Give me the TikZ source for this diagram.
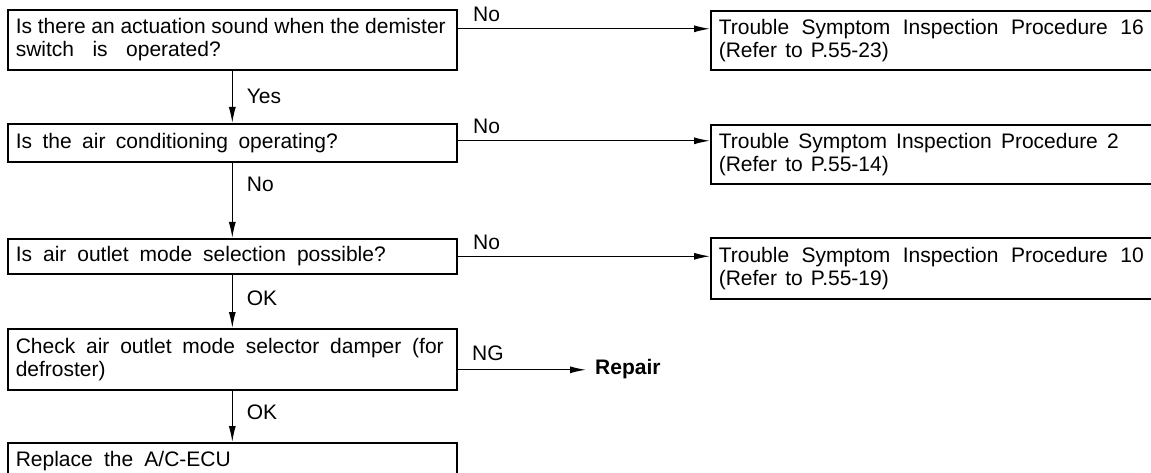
\documentclass[tikz,border=0pt]{standalone}
\usepackage{fontspec}
\setmainfont{Liberation Sans}
\usetikzlibrary{arrows.meta}
\newcommand\fs{\fontsize{21}{23}\selectfont}
\newcommand\jline[2]{\hbox to #1{#2}}
\tikzset{
  box/.style={draw, line width=1.6pt, anchor=north west, inner xsep=8pt, inner ysep=0pt, align=left, font=\fs},
  arr/.style={line width=1.2pt, -{Latex[length=16pt,width=7pt]}},
  lbl/.style={inner sep=0pt, font=\fs},
}
\begin{document}
\begin{tikzpicture}[x=1pt,y=-1pt]
\useasboundingbox (0,0) rectangle (1151,473);
% left column
\node[box, minimum width=449pt, minimum height=60pt, text width=433pt] (b1) at (7,9)
  {\jline{430pt}{Is\hfill there\hfill an\hfill actuation\hfill sound\hfill when\hfill the\hfill demister}\\
   \jline{205pt}{switch\hfill is\hfill operated?}};
\node[box, minimum width=449pt, minimum height=38pt, text width=433pt] (b2) at (7,123)
  {\jline{322pt}{Is\hfill the\hfill air\hfill conditioning\hfill operating?}};
\node[box, minimum width=449pt, minimum height=35pt, text width=433pt] (b3) at (7,238)
  {\jline{370pt}{Is\hfill air\hfill outlet\hfill mode\hfill selection\hfill possible?}};
\node[box, minimum width=449pt, minimum height=61pt, text width=433pt] (b4) at (7,328)
  {\jline{428pt}{Check\hfill air\hfill outlet\hfill mode\hfill selector\hfill damper\hfill (for}\\defroster)};
\node[box, minimum width=449pt, minimum height=36pt, text width=433pt] (b5) at (7,442)
  {\jline{215pt}{Replace\hfill the\hfill A/C-ECU}};
% right column
\node[box, minimum width=460pt, minimum height=59pt, text width=444pt] (r1) at (710,10)
  {\jline{425pt}{Trouble\hfill Symptom\hfill Inspection\hfill Procedure\hfill 16}\\
   \jline{170pt}{(Refer\hfill to\hfill P.55-23)}};
\node[box, minimum width=460pt, minimum height=59pt, text width=444pt] (r2) at (710,124)
  {\jline{400pt}{Trouble\hfill Symptom\hfill Inspection\hfill Procedure\hfill 2}\\
   \jline{170pt}{(Refer\hfill to\hfill P.55-14)}};
\node[box, minimum width=460pt, minimum height=61pt, text width=444pt] (r3) at (710,237)
  {\jline{425pt}{Trouble\hfill Symptom\hfill Inspection\hfill Procedure\hfill 10}\\
   \jline{170pt}{(Refer\hfill to\hfill P.55-19)}};
\node[lbl, anchor=west, inner xsep=9pt, font=\fs\bfseries] (rep) at (586,369) {Repair};
% vertical connectors
\draw[arr] (b1.south) -- (b2.north) node[lbl, anchor=west, pos=0.5, xshift=14pt] {Yes};
\draw[arr] (b2.south) -- (b3.north) node[lbl, anchor=west, pos=0.29, xshift=14pt] {No};
\draw[arr] (b3.south) -- (b4.north) node[lbl, anchor=west, pos=0.45, xshift=14pt] {OK};
\draw[arr] (b4.south) -- (b5.north) node[lbl, anchor=west, pos=0.43, xshift=14pt] {OK};
% horizontal connectors
\coordinate (s1) at ([yshift=11pt]b1.east);
\coordinate (s2) at ([yshift=2pt]b2.east);
\coordinate (s3) at (b3.east);
\coordinate (s4) at ([yshift=-10.5pt]b4.east);
\draw[arr] (s1) -- (s1 -| r1.west) node[lbl, anchor=south west, pos=0, xshift=15pt, yshift=6pt] {No};
\draw[arr] (s2) -- (s2 -| r2.west) node[lbl, anchor=south west, pos=0, xshift=15pt, yshift=6pt] {No};
\draw[arr] (s3) -- (s3 -| r3.west) node[lbl, anchor=south west, pos=0, xshift=15pt, yshift=6pt] {No};
\draw[arr] (s4) -- (s4 -| rep.west) node[lbl, anchor=south west, pos=0, xshift=14pt, yshift=8pt] {NG};
\end{tikzpicture}
\end{document}
